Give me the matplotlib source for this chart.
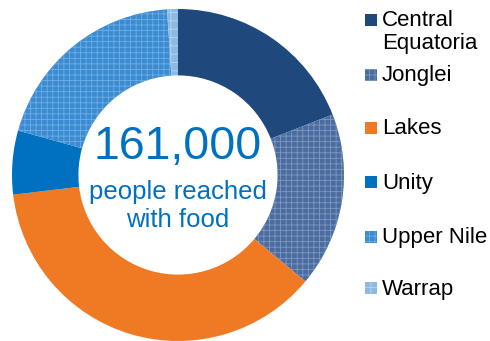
import matplotlib
matplotlib.use("Agg")
import matplotlib.pyplot as plt
from matplotlib.patches import Rectangle

categories = ["Central\nEquatoria", "Jonglei", "Lakes", "Unity", "Upper Nile", "Warrap"]
values = [30700, 27400, 59600, 10000, 31600, 1700]
total_label = "161,000"
sub_label = "people reached\nwith food"

colors = ["#1F497D", "#4A6CA0", "#F07A24", "#0070C0", "#3A8BD2", "#8DBAE2"]
hatches = [None, "+++", None, None, "+++", "++"]
hatch_colors = ["#1F497D", "#7F98BE", "#F07A24", "#0070C0", "#6FAEE2", "#B8D4EE"]

plt.rcParams["font.family"] = ["Liberation Sans", "DejaVu Sans"]
plt.rcParams["hatch.linewidth"] = 0.6

fig = plt.figure(figsize=(4.9, 3.41), dpi=100)
W, H = 490, 341
cx, cy, R = 178, 175, 166
ax = fig.add_axes([(cx - R) / W, (H - cy - R) / H, 2 * R / W, 2 * R / H])
wedges, _ = ax.pie(values, colors=colors, startangle=90, counterclock=False,
                   radius=1.0, wedgeprops=dict(width=0.40, linewidth=0))
for w, h, hc in zip(wedges, hatches, hatch_colors):
    if h:
        w.set_hatch(h)
        w.set_edgecolor(hc)
        w.set_linewidth(0)
ax.set_xlim(-1, 1)
ax.set_ylim(-1, 1)
ax.set_aspect("equal")
ax.axis("off")

# overlay axes in pixel coords
ov = fig.add_axes([0, 0, 1, 1])
ov.set_xlim(0, W)
ov.set_ylim(H, 0)
ov.axis("off")

ov.text(cx, 147, total_label, ha="center", va="center", fontsize=33.5, color="#0070C0")
ov.text(cx, 206, sub_label, ha="center", va="center", fontsize=18.5, color="#0070C0",
        linespacing=1.2)

marker_y = [20, 75, 128, 182, 237, 288]
for lab, col, h, hc, y in zip(categories, colors, hatches, hatch_colors, marker_y):
    r = Rectangle((365, y - 6), 12, 12, facecolor=col, edgecolor=hc if h else col,
                  hatch=h, linewidth=0)
    ov.add_patch(r)
    if "\n" in lab:
        ov.text(382, y - 10, lab, ha="left", va="top", fontsize=16, color="black",
                linespacing=1.1)
    else:
        ov.text(382, y + 1, lab, ha="left", va="center", fontsize=16, color="black")

fig.savefig("out.png", dpi=100)
